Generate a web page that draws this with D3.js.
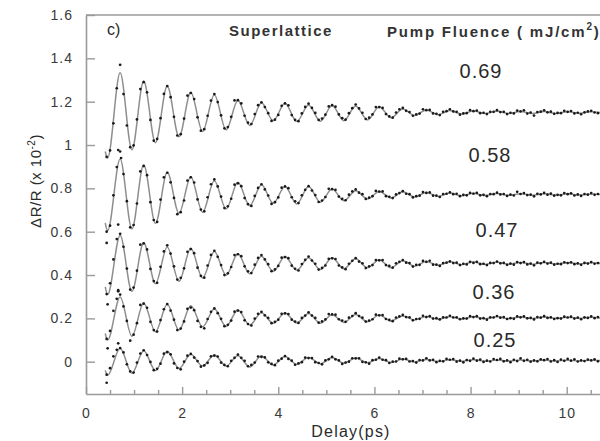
<!DOCTYPE html>
<html><head><meta charset="utf-8">
<script src="https://cdn.jsdelivr.net/npm/d3@7"></script>
<style>
body{margin:0;background:#fff;overflow:hidden}
svg{display:block;font-family:"Liberation Sans",Arial,sans-serif}
</style>
</head><body>
<svg id="chart" width="600" height="441"></svg>
<script>
// ---------- DATA ----------
const fluences = ["0.69", "0.58", "0.47", "0.36", "0.25"];

// measured delays (ps) of the data points
const delay = [0.43,0.50,0.57,0.64,0.71,0.78,0.85,0.92,0.99,1.06,1.13,1.20,1.27,1.34,1.41,1.48,1.55,1.62,1.69,1.76,1.83,1.90,1.97,2.04,2.11,2.18,2.25,2.32,2.39,2.46,2.53,2.60,2.67,2.74,2.81,2.88,2.95,3.02,3.09,3.16,3.23,3.30,3.37,3.44,3.51,3.58,3.65,3.72,3.79,3.86,3.93,4.00,4.07,4.14,4.21,4.28,4.35,4.42,4.49,4.56,4.63,4.70,4.77,4.84,4.91,4.98,5.05,5.12,5.19,5.26,5.33,5.40,5.47,5.54,5.61,5.68,5.75,5.82,5.89,5.96,6.03,6.10,6.17,6.24,6.31,6.38,6.45,6.52,6.59,6.66,6.73,6.80,6.87,6.94,7.01,7.08,7.15,7.22,7.29,7.36,7.43,7.50,7.57,7.64,7.71,7.78,7.85,7.92,7.99,8.06,8.13,8.20,8.27,8.34,8.41,8.48,8.55,8.62,8.69,8.76,8.83,8.90,8.97,9.04,9.11,9.18,9.25,9.32,9.39,9.46,9.53,9.60,9.67,9.74,9.81,9.88,9.95,10.02,10.09,10.16,10.23,10.30,10.37,10.44,10.51,10.58,10.65];

const dots069 = [0.945,0.975,1.100,1.262,
1.370,1.235,1.090,0.990,0.998,1.118,1.258,
1.290,1.243,1.116,1.020,1.028,1.124,1.236,
1.272,1.221,1.130,1.044,1.050,1.122,1.228,
1.240,1.212,1.128,1.066,1.073,1.135,1.205,
1.235,1.198,1.137,1.077,1.083,1.130,1.206,
1.207,1.192,1.135,1.103,1.097,1.143,1.184,
1.197,1.175,1.147,1.111,1.117,1.139,1.181,
1.192,1.183,1.138,1.116,1.110,1.146,1.176,
1.191,1.171,1.148,1.116,1.122,1.140,1.178,
1.184,1.177,1.141,1.124,1.117,1.147,1.170,
1.187,1.169,1.149,1.120,1.126,1.141,1.175,
1.175,1.171,1.143,1.132,1.126,1.150,1.165,
1.171,1.158,1.152,1.135,1.141,1.145,1.165,
1.161,1.162,1.146,1.144,1.138,1.153,1.156,
1.165,1.155,1.153,1.140,1.146,1.147,1.161,
1.156,1.159,1.147,1.149,1.143,1.153,1.153,
1.161,1.152,1.153,1.143,1.149,1.146,1.159,
1.155,1.160,1.145,1.150,1.136,1.152,1.154,
1.160,1.151,1.154,1.144,1.148,1.147,1.158,
1.153,1.157,1.146,1.149,1.142,1.151,1.155,
1.158,1.150,1.147];

const dots058 = [0.600,0.628,0.768,0.898,
0.970,0.866,0.741,0.620,0.631,0.730,0.878,
0.903,0.861,0.736,0.654,0.645,0.748,0.851,
0.872,0.828,0.756,0.681,0.690,0.744,0.836,
0.851,0.827,0.749,0.702,0.694,0.759,0.819,
0.841,0.809,0.762,0.709,0.717,0.752,0.817,
0.823,0.810,0.755,0.727,0.719,0.765,0.802,
0.819,0.795,0.767,0.728,0.736,0.758,0.803,
0.809,0.801,0.759,0.740,0.732,0.768,0.793,
0.810,0.790,0.769,0.737,0.744,0.760,0.798,
0.796,0.793,0.762,0.751,0.745,0.771,0.786,
0.795,0.780,0.773,0.751,0.757,0.764,0.788,
0.785,0.786,0.764,0.761,0.755,0.772,0.778,
0.787,0.775,0.773,0.758,0.764,0.766,0.783,
0.779,0.781,0.766,0.766,0.760,0.774,0.775,
0.781,0.773,0.775,0.764,0.770,0.768,0.779,
0.775,0.779,0.768,0.770,0.764,0.774,0.773,
0.780,0.772,0.774,0.765,0.771,0.767,0.784,
0.774,0.778,0.769,0.771,0.763,0.775,0.772,
0.779,0.771,0.776,0.766,0.770,0.768,0.778,
0.773,0.777,0.767,0.772,0.765,0.774,0.771,
0.778,0.770,0.774];

const dots047 = [0.312,0.362,0.472,0.566,
0.590,0.530,0.430,0.333,0.342,0.420,0.540,
0.546,0.518,0.428,0.372,0.364,0.438,0.509,
0.537,0.499,0.440,0.379,0.387,0.431,0.507,
0.520,0.501,0.434,0.396,0.388,0.444,0.493,
0.512,0.484,0.446,0.400,0.408,0.437,0.492,
0.496,0.487,0.440,0.417,0.409,0.448,0.479,
0.492,0.472,0.450,0.418,0.426,0.442,0.480,
0.483,0.478,0.443,0.429,0.421,0.451,0.470,
0.485,0.467,0.452,0.425,0.433,0.444,0.475,
0.477,0.474,0.444,0.435,0.427,0.452,0.466,
0.478,0.462,0.454,0.432,0.440,0.446,0.469,
0.468,0.469,0.446,0.442,0.434,0.454,0.461,
0.469,0.457,0.455,0.439,0.447,0.447,0.465,
0.461,0.466,0.448,0.448,0.442,0.455,0.457,
0.463,0.455,0.457,0.446,0.452,0.449,0.461,
0.456,0.461,0.450,0.452,0.446,0.456,0.455,
0.462,0.454,0.456,0.447,0.453,0.448,0.460,
0.455,0.460,0.449,0.453,0.445,0.457,0.454,
0.461,0.453,0.457,0.448,0.452,0.450,0.459,
0.455,0.459,0.450,0.454,0.447,0.456,0.453,
0.460,0.452,0.455];

const dots036 = [0.105,0.142,0.235,0.290,
0.310,0.255,0.188,0.097,0.125,0.178,0.262,
0.268,0.249,0.184,0.146,0.139,0.192,0.242,
0.266,0.236,0.194,0.146,0.153,0.186,0.244,
0.250,0.238,0.188,0.161,0.154,0.197,0.230,
0.246,0.224,0.198,0.164,0.170,0.190,0.231,
0.236,0.229,0.191,0.174,0.167,0.199,0.221,
0.230,0.214,0.202,0.178,0.184,0.194,0.221,
0.223,0.220,0.194,0.185,0.179,0.202,0.213,
0.228,0.213,0.202,0.180,0.186,0.195,0.220,
0.218,0.217,0.196,0.190,0.184,0.203,0.211,
0.224,0.211,0.203,0.185,0.190,0.196,0.217,
0.214,0.215,0.197,0.193,0.187,0.204,0.209,
0.216,0.206,0.205,0.191,0.197,0.198,0.212,
0.206,0.210,0.199,0.201,0.195,0.205,0.204,
0.212,0.204,0.205,0.196,0.200,0.199,0.210,
0.206,0.210,0.199,0.201,0.194,0.205,0.204,
0.211,0.203,0.206,0.197,0.201,0.198,0.209,
0.205,0.209,0.200,0.202,0.195,0.206,0.203,
0.210,0.202,0.205,0.197,0.201,0.199,0.208,
0.204,0.208,0.199,0.203,0.196,0.205,0.202,
0.209,0.201,0.206];

const dots025 = [-0.060,-0.030,0.025,0.055,
0.063,0.043,-0.012,-0.045,-0.050,-0.004,0.038,
0.053,0.031,-0.001,-0.039,-0.033,-0.009,0.037,
0.044,0.034,-0.008,-0.029,-0.035,0.000,0.028,
0.036,0.019,0.003,-0.023,-0.017,-0.005,0.025,
0.028,0.024,-0.004,-0.015,-0.021,0.004,0.018,
0.033,0.018,0.004,-0.021,-0.015,-0.004,0.024,
0.022,0.020,-0.003,-0.010,-0.016,0.005,0.014,
0.026,0.013,0.005,-0.014,-0.008,-0.002,0.019,
0.017,0.017,-0.002,-0.006,-0.012,0.006,0.011,
0.022,0.011,0.006,-0.010,-0.004,0.000,0.016,
0.015,0.016,-0.001,-0.003,-0.009,0.007,0.009,
0.019,0.009,0.007,-0.006,0.000,0.001,0.014,
0.011,0.013,0.001,0.003,-0.004,0.008,0.006,
0.016,0.006,0.009,-0.002,0.004,0.002,0.013,
0.009,0.012,0.000,0.005,-0.003,0.008,0.004,
0.014,0.005,0.010,-0.001,0.005,0.001,0.012,
0.008,0.013,0.002,0.006,-0.002,0.009,0.003,
0.015,0.004,0.009,0.000,0.006,0.002,0.011,
0.007,0.012,0.001,0.007,-0.001,0.010,0.004,
0.013,0.005,0.011,0.001,0.006,0.003,0.010,
0.006,0.011,0.002];

// stray points near time zero: [delay, value]
const extra069 = [[0.67,0.977],[0.73,0.940]];
const extra058 = [[0.67,0.633]];
const extra047 = [[0.43,0.548],[0.67,0.325]];
const extra036 = [[0.45,0.265],[0.67,0.330]];
const extra025 = [[0.45,0.062],[0.43,-0.097],[0.67,0.085]];

// fitted curve: delay of its turning points, and the curve value there
const fitDelay = [0.40,0.45,0.71,0.955,1.20,1.445,1.69,1.935,2.18,2.425,2.67,2.915,3.16,3.405,3.65,3.895,4.14,4.385,4.63,4.875,5.12,5.365,5.61,5.855,6.10,6.345,6.59,6.835,7.08,7.325,7.57,7.815,8.06,8.305,8.55,8.795,9.04,9.285,9.53,9.775,10.02,10.265,10.51,10.755];
const fit069 = [0.970,0.940,1.333,0.978,1.295,1.011,1.272,1.038,1.243,1.062,1.232,1.070,1.205,1.090,1.195,1.112,1.193,1.108,1.185,1.110,1.182,1.112,1.180,1.116,1.177,1.126,1.166,1.136,1.162,1.140,1.159,1.143,1.157,1.145,1.156,1.145,1.155,1.146,1.155,1.146,1.154,1.147,1.154,1.148];
const fit058 = [0.640,0.605,0.935,0.613,0.909,0.639,0.874,0.685,0.854,0.690,0.835,0.705,0.828,0.720,0.817,0.731,0.808,0.728,0.808,0.736,0.797,0.743,0.789,0.751,0.786,0.756,0.784,0.760,0.781,0.763,0.778,0.766,0.777,0.767,0.776,0.768,0.775,0.768,0.775,0.769,0.775,0.769,0.774,0.770];
const fit047 = [0.345,0.310,0.583,0.325,0.549,0.360,0.529,0.371,0.524,0.386,0.509,0.399,0.498,0.406,0.487,0.417,0.486,0.422,0.480,0.425,0.480,0.429,0.475,0.434,0.471,0.434,0.466,0.441,0.463,0.445,0.461,0.448,0.460,0.449,0.459,0.450,0.458,0.450,0.458,0.451,0.457,0.451,0.457,0.452];
const fit036 = [0.130,0.100,0.299,0.118,0.271,0.138,0.265,0.146,0.258,0.161,0.243,0.163,0.239,0.169,0.226,0.177,0.225,0.179,0.222,0.178,0.217,0.181,0.218,0.184,0.215,0.188,0.211,0.193,0.209,0.196,0.208,0.197,0.207,0.198,0.207,0.199,0.206,0.199,0.206,0.200,0.205,0.200,0.205,0.200];
const fit025 = [-0.040,-0.063,0.062,-0.053,0.051,-0.041,0.048,-0.031,0.035,-0.020,0.031,-0.020,0.028,-0.024,0.026,-0.015,0.024,-0.012,0.020,-0.009,0.019,-0.007,0.017,-0.005,0.015,-0.004,0.012,-0.001,0.010,0.001,0.009,0.002,0.009,0.002,0.008,0.003,0.008,0.003,0.008,0.003,0.007,0.003,0.007,0.004];

const yTicks = [0,0.2,0.4,0.6,0.8,1,1.2,1.4,1.6];
const xTicks = [0,2,4,6,8,10];
const xMinorTicks = [0.5,1,1.5,2.5,3,3.5,4.5,5,5.5,6.5,7,7.5,8.5,9,9.5,10.5];

// ---------- CHART ----------
const series = [
  {label: fluences[0], dots: dots069, fit: fit069, extra: extra069, lx: 481, ly: 78},
  {label: fluences[1], dots: dots058, fit: fit058, extra: extra058, lx: 490, ly: 162},
  {label: fluences[2], dots: dots047, fit: fit047, extra: extra047, lx: 497, ly: 237},
  {label: fluences[3], dots: dots036, fit: fit036, extra: extra036, lx: 494, ly: 299},
  {label: fluences[4], dots: dots025, fit: fit025, extra: extra025, lx: 495, ly: 347}
];

const svg = d3.select("#chart");
const x = d3.scaleLinear().domain([0, 11]).range([86, 86 + 11 * 48.07]);
const y = d3.scaleLinear().domain([-0.149, 1.6]).range([394, 15]);

const axisColor = "#9a9a9a";
const textColor = "#2a2a2a";

// frame top line
svg.append("line").attr("x1", x(0)).attr("x2", 600).attr("y1", y(1.6)).attr("y2", y(1.6))
  .attr("stroke", axisColor).attr("stroke-width", 1.6);

// y axis
const gy = svg.append("g").attr("transform", `translate(${x(0)},0)`)
  .call(d3.axisLeft(y).tickValues(yTicks).tickSizeInner(-9).tickSizeOuter(0)
    .tickPadding(14).tickFormat(d3.format("~g")));
// x axis major
const gx = svg.append("g").attr("transform", `translate(0,${y.range()[0]})`)
  .call(d3.axisBottom(x).tickValues(xTicks).tickSizeInner(-7).tickSizeOuter(0)
    .tickPadding(14).tickFormat(d3.format("d")));
// x axis minor
const gxm = svg.append("g").attr("transform", `translate(0,${y.range()[0]})`)
  .call(d3.axisBottom(x).tickValues(xMinorTicks).tickSizeInner(-4).tickSizeOuter(0).tickFormat(""));
gxm.select(".domain").remove();

[gy, gx, gxm].forEach(g => {
  g.selectAll(".domain").attr("stroke", axisColor).attr("stroke-width", 1.6);
  g.selectAll(".tick line").attr("stroke", axisColor).attr("stroke-width", 1.4);
  g.selectAll(".tick text").attr("fill", "#3a3a3a")
    .style("font-family", '"Liberation Sans",Arial,sans-serif')
    .style("font-size", "14px").style("letter-spacing", "1px");
});
gy.selectAll(".tick text").attr("x", -13);

// fitted curves
const line = d3.line().x(d => x(d[0])).y(d => y(d[1])).curve(d3.curveMonotoneX);
series.forEach(s => {
  const pts = fitDelay.map((t, i) => [t, s.fit[i]]).filter(d => d[1] !== undefined);
  svg.append("path").datum(pts).attr("d", line)
    .attr("fill", "none").attr("stroke", "#8e8e8e").attr("stroke-width", 1.5);
});

// data points
series.forEach(s => {
  const pts = delay.map((t, i) => [t, s.dots[i]]).filter(d => d[1] !== undefined).concat(s.extra);
  svg.append("g").selectAll("circle").data(pts).join("circle")
    .attr("cx", d => x(d[0])).attr("cy", d => y(d[1])).attr("r", 1.35)
    .attr("fill", "#1a1a1a");
});

// series labels
series.forEach(s => {
  svg.append("text").attr("x", s.lx).attr("y", s.ly).attr("text-anchor", "middle")
    .attr("fill", textColor).style("font-size", "20px").style("letter-spacing", "1px")
    .text(s.label);
});

// panel texts
svg.append("text").attr("x", 107).attr("y", 35).attr("fill", textColor)
  .style("font-size", "16px").text("c)");
svg.append("text").attr("x", 229).attr("y", 36).attr("fill", "#333")
  .style("font-size", "15px").style("font-weight", "bold").style("letter-spacing", "1.5px")
  .text("Superlattice");
const pf = svg.append("text").attr("x", 387).attr("y", 37).attr("fill", "#333")
  .style("font-size", "15px").style("font-weight", "bold").style("letter-spacing", "1.8px");
pf.append("tspan").text("Pump Fluence ( mJ/cm");
pf.append("tspan").attr("dy", -7).style("font-size", "10px").text("2");
pf.append("tspan").attr("dy", 7).text(")");

// axis titles
svg.append("text").attr("x", 351).attr("y", 437).attr("text-anchor", "middle")
  .attr("fill", textColor).style("font-size", "16px").style("letter-spacing", "1.2px")
  .text("Delay(ps)");
const yt = svg.append("text").attr("transform", "translate(41,181) rotate(-90)")
  .attr("text-anchor", "middle").attr("fill", textColor)
  .style("font-size", "15px").style("letter-spacing", "0.5px");
yt.append("tspan").text("\u0394R/R (x 10");
yt.append("tspan").attr("dy", -6).style("font-size", "10px").text("-2");
yt.append("tspan").attr("dy", 6).text(")");
</script>
</body></html>
